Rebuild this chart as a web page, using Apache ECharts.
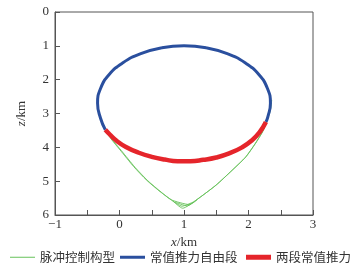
<!DOCTYPE html>
<html><head><meta charset="utf-8">
<script src="https://cdn.jsdelivr.net/npm/echarts@6/dist/echarts.min.js"></script>
<style>html,body{margin:0;padding:0;background:#fff}#c{width:356px;height:272px}</style>
</head><body><div id="c"></div>
<script>
var seriesNames = ['脉冲控制构型', '常值推力自由段', '两段常值推力'];
var xTicks = [-1, 0, 1, 2, 3];
var yTicks = [0, 1, 2, 3, 4, 5, 6];
var pulseA = [[-0.22,3.5],[-0.14,3.73],[0.01,4.08],[0.22,4.57],[0.42,4.97],[0.63,5.31],[0.81,5.56],[0.98,5.8],[1.19,5.56],[1.5,5.11],[1.75,4.67],[1.96,4.28],[2.11,3.88],[2.22,3.54],[2.28,3.25],[2.34,2.9],[2.36,2.6]];
var pulseB = [[-0.2,3.52],[-0.12,3.76],[0.03,4.1],[0.24,4.59],[0.44,4.99],[0.65,5.33],[0.8,5.55],[1.08,5.69],[1.18,5.57],[1.49,5.13],[1.74,4.69],[1.95,4.3],[2.1,3.9],[2.21,3.56],[2.27,3.3]];
var pulseC = [[0.82,5.58],[0.97,5.74],[1.14,5.62]];
var pulseD = [[0.86,5.62],[1.05,5.73],[1.2,5.56]];
var coastArc = [[-0.22,3.48],[-0.294,3.14],[-0.34,2.7],[-0.294,2.26],[-0.16,1.85],[0.053,1.5],[0.33,1.23],[0.653,1.06],[1.0,1.0],[1.347,1.06],[1.67,1.23],[1.947,1.5],[2.16,1.85],[2.294,2.26],[2.34,2.7],[2.3,3.1],[2.27,3.25]];
var thrustArc = [[-0.22,3.48],[-0.15,3.62],[-0.05,3.8],[0.1,3.99],[0.3,4.16],[0.5,4.28],[0.7,4.36],[0.9,4.41],[1.1,4.41],[1.3,4.37],[1.5,4.3],[1.7,4.18],[1.9,4.0],[2.05,3.8],[2.17,3.56],[2.27,3.25]];

var GREEN = '#66c25a', BLUE = '#2a4f9e', RED = '#e5252b';
var serif = 'Liberation Serif, Times New Roman, serif';
var cjk = 'Noto Sans CJK SC';
var minus = function (v) { return String(v).replace('-', '\u2212'); };

function legendAt(left, name, color, h) {
  return {
    left: left, top: 251, padding: 0, itemWidth: 25, itemHeight: h, itemGap: 0,
    icon: 'rect', data: [name], selectedMode: false,
    textStyle: { fontFamily: cjk, fontSize: 12.5, color: '#333' },
    itemStyle: { color: color }
  };
}
function greenLine(d) {
  return { name: seriesNames[0], type: 'line', data: d, symbol: 'none', smooth: 0.2,
    lineStyle: { color: GREEN, width: 0.9 }, itemStyle: { color: GREEN }, z: 1 };
}

var chart = echarts.init(document.getElementById('c'), null, { renderer: 'canvas' });
chart.setOption({
  animation: false,
  backgroundColor: '#fff',
  grid: { left: 55, right: 43, top: 12, bottom: 57, show: true, borderColor: '#555', borderWidth: 1 },
  legend: [legendAt(10, seriesNames[0], GREEN, 1), legendAt(120, seriesNames[1], BLUE, 3), legendAt(246, seriesNames[2], RED, 5)],
  xAxis: {
    type: 'value', min: xTicks[0], max: xTicks[xTicks.length - 1], interval: 1,
    name: '{i|x}/km', nameLocation: 'middle', nameGap: 18,
    nameTextStyle: { fontFamily: serif, fontSize: 13, color: '#333', rich: { i: { fontFamily: serif, fontStyle: 'italic', fontSize: 13, color: '#333' } } },
    axisLine: { onZero: false, lineStyle: { color: '#555' } },
    axisTick: { inside: true, length: 5, lineStyle: { color: '#555' } },
    minorTick: { show: true, splitNumber: 2, length: 5, lineStyle: { color: '#555' } },
    axisLabel: { fontFamily: serif, fontSize: 13, color: '#333', margin: 3, formatter: minus },
    splitLine: { show: false }
  },
  yAxis: {
    type: 'value', inverse: true, min: yTicks[0], max: yTicks[yTicks.length - 1], interval: 1,
    name: '{i|z}/km', nameLocation: 'middle', nameGap: 27, nameRotate: 90,
    nameTextStyle: { fontFamily: serif, fontSize: 13, color: '#333', rich: { i: { fontFamily: serif, fontStyle: 'italic', fontSize: 13, color: '#333' } } },
    axisLine: { onZero: false, lineStyle: { color: '#555' } },
    axisTick: { inside: true, length: 5, lineStyle: { color: '#555' } },
    axisLabel: { fontFamily: serif, fontSize: 13, color: '#333', margin: 6 },
    splitLine: { show: false }
  },
  series: [
    greenLine(pulseA), greenLine(pulseB), greenLine(pulseC), greenLine(pulseD),
    { name: seriesNames[1], type: 'line', data: coastArc, symbol: 'none', smooth: 0.5,
      lineStyle: { color: BLUE, width: 3 }, itemStyle: { color: BLUE }, z: 3 },
    { name: seriesNames[2], type: 'line', data: thrustArc, symbol: 'none', smooth: 0.5,
      lineStyle: { color: RED, width: 4.5 }, itemStyle: { color: RED }, z: 4 }
  ]
});
</script></body></html>
